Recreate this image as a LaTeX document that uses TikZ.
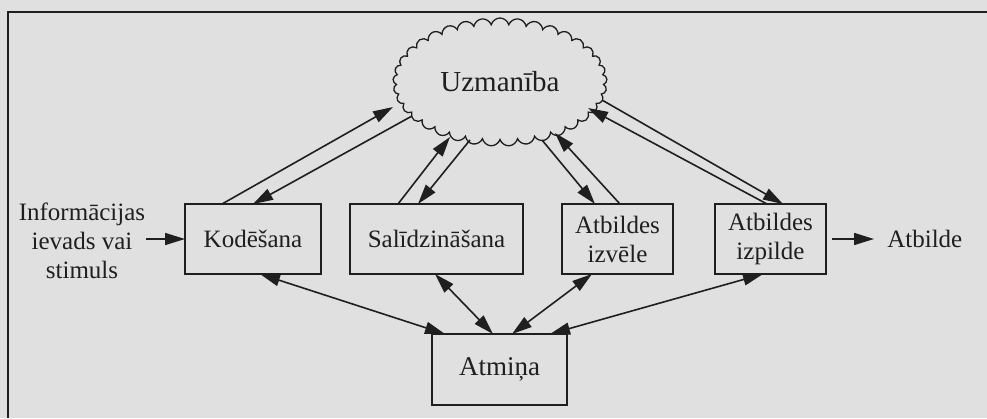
\documentclass[tikz,border=0pt]{standalone}
\usepackage{fontspec}
\setmainfont{Liberation Serif}
\usetikzlibrary{positioning,arrows.meta,shapes.symbols}

\begin{document}
\begin{tikzpicture}[x=1pt,y=-1pt,every node/.style={outer sep=0pt},
 color=black!88,font=\fontsize{25}{29}\selectfont,
 block/.style={draw,line width=1.9pt,minimum height=70pt,align=center,inner sep=2pt},
 link/.style={line width=1.6pt,-{Triangle[length=20pt,width=12pt]}},
 both/.style={line width=1.6pt,{Triangle[length=20pt,width=12pt]}-{Triangle[length=20pt,width=12pt]}}]

 \fill[black!12] (0,0) rectangle (987,418);
 \useasboundingbox (0,0) rectangle (987,418);
 \draw[line width=2.5pt] (987,12) -- (8,12) -- (8,418);

 \node[cloud,draw,line width=1.3pt,cloud puffs=37,cloud puff arc=150,aspect=1.7,
  minimum width=214pt,minimum height=128pt,inner sep=0pt,
  font=\fontsize{29}{33}\selectfont] (uzm) at (500,82) {Uzmanība};

 \node[block,minimum width=136pt] (kod) at (253,239) {Kodēšana};
 \node[block,minimum width=173pt] (sal) at (436.5,239) {Salīdzināšana};
 \node[block,minimum width=111pt] (izv) at (617.5,239) {Atbildes\\izvēle};
 \node[block,minimum width=111pt] (izp) at (770.5,239) {Atbildes\\izpilde};
 \node[block,minimum width=135pt,minimum height=71pt,
  font=\fontsize{27}{31}\selectfont] (atm) at (499.5,369.5) {Atmiņa};

 \node[align=center,inner sep=1pt] (inf) at (82,241) {Informācijas\\ievads vai\\stimuls};
 \node[right=58pt of izp] (atb) {Atbilde};

 \draw[link] (inf.east|-kod.west) -- (kod.west);
 \draw[link] ([xshift=6pt]izp.east) -- ([xshift=-10pt]atb.west);

 % ends on the cloud
 \coordinate (u1) at (393,107);
 \coordinate (u2) at (412,116);
 \coordinate (u3) at (450,137);
 \coordinate (u4) at (470,140);
 \coordinate (u5) at (542,140);
 \coordinate (u6) at (555,133);
 \coordinate (u7) at (602,100);
 \coordinate (u8) at (588,108);

 \draw[link] ([xshift=-31pt]kod.north) -- (u1);
 \draw[link] (u2) -- (kod.north);
 \draw[link] ([xshift=-38.5pt]sal.north) -- (u3);
 \draw[link] (u4) -- ([xshift=-18.5pt]sal.north);
 \draw[link] (u5) -- ([xshift=-22.5pt]izv.north);
 \draw[link] ([xshift=2.5pt]izv.north) -- (u6);
 \draw[link] (u7) -- ([xshift=12.5pt]izp.north);
 \draw[link] ([xshift=-3.5pt]izp.north) -- (u8);

 % memory links
 \foreach \b/\p/\q in {kod/7/-54.5,sal/-1.5/-6.5,izv/-25.5/12.5,izp/-7.5/50.5}
  \draw[both] ([xshift=\p pt]\b.south) -- ([xshift=\q pt]atm.north);

\end{tikzpicture}
\end{document}
